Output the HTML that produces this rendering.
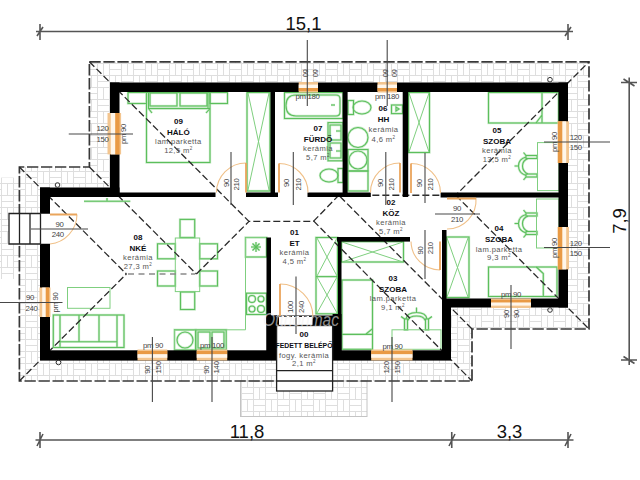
<!DOCTYPE html>
<html><head><meta charset="utf-8">
<style>
html,body{margin:0;padding:0;background:#fff;width:640px;height:480px;overflow:hidden}
svg{display:block}
text{font-family:"Liberation Sans",sans-serif}
.rn{font-weight:bold;fill:#0c0c12;font-size:8px}
.mt{fill:#555;font-size:7.6px;letter-spacing:.4px}
.dm{fill:#444;font-size:7.8px;letter-spacing:-.3px}
</style></head><body>
<svg width="640" height="480" viewBox="0 0 640 480">
<defs>
<pattern id="tile" x="1" y="3" width="24" height="24" patternUnits="userSpaceOnUse">
<path d="M0 .5H24M0 6.5H12M0 12.5H24M12 18.5H24M.5 0V24M12.5 0V24M18.5 0V12M6.5 12V24" stroke="#dedede" stroke-width="1" fill="none"/>
</pattern>
</defs>
<rect width="640" height="480" fill="#fff"/>

<path d="M89.4 61.8H589V329H472V381H19.4V167H89.4Z" fill="url(#tile)"/>
<rect x="0" y="177.6" width="19.4" height="101.4" fill="url(#tile)"/>
<rect x="240.5" y="381" width="126.5" height="35.5" fill="url(#tile)" stroke="#c4c4c4" stroke-width="1"/>
<path d="M110 82.5H568V307.5H451V360H40V187.5H110Z" fill="#fff"/>
<path d="M89.4 61.8H589V329H472V381H19.4V167H89.4Z" fill="none" stroke="#383838" stroke-width="1.7" stroke-dasharray="11.3 2.7"/>
<g fill="none" stroke="#cdeccd" stroke-width="2.4"><rect x="146.5" y="92.5" width="63.5" height="70" /><rect x="148.5" y="92.5" width="59.5" height="16"/><rect x="150" y="93" width="27" height="13"/><rect x="180" y="93" width="27" height="13"/><path d="M148.5 108.5H210M148.5 108.5L152 113M210 108.5L206 113"/><rect x="128" y="92.5" width="18.5" height="11"/><rect x="210" y="92.5" width="17.5" height="11"/><rect x="247" y="92.5" width="23" height="98.5"/><rect x="284.5" y="92.5" width="58.5" height="26"/><path d="M296 95H336Q340 95 340 99V112Q340 116 336 116H296Q286 116 286 105.5Q286 95 296 95Z"/><path d="M331 105H335"/><rect x="328" y="122.6" width="15" height="38.2"/><path d="M330 125H341V140H330ZM330 143H341V158H330Z"/><path d="M336 131H341M336 151H341"/><rect x="338" y="168.5" width="5" height="14"/><ellipse cx="329" cy="175.5" rx="9" ry="6.5"/><rect x="348" y="100.5" width="5.5" height="14"/><ellipse cx="362" cy="107.5" rx="9" ry="6.5"/><rect x="391.5" y="105" width="11" height="8.6"/><path d="M396 107V111L399 109Z"/><circle cx="358" cy="137.5" r="10"/><rect x="348" y="149.5" width="20" height="21.5"/><circle cx="358" cy="160" r="9"/><rect x="348" y="171" width="20" height="20"/><rect x="408.5" y="92.5" width="21" height="60"/><rect x="488.5" y="92.5" width="70" height="30.5"/><path d="M542 92.5V123M542 115L536 123"/><rect x="526" y="155.5" width="11" height="3"/><rect x="526" y="174" width="11" height="3"/><path d="M526 157Q518.5 159 518.5 166Q518.5 173 526 175.5M528 158.5Q522.5 160.5 522.5 166Q522.5 171.5 528 174M514.5 166H518.5M523.5 152.5L526 155.5M523.5 180L526 177"/><rect x="526" y="213.0" width="11" height="3"/><rect x="526" y="231.5" width="11" height="3"/><path d="M526 214.5Q518.5 216.5 518.5 223.5Q518.5 230.5 526 233.0M528 216.0Q522.5 218.0 522.5 223.5Q522.5 229.0 528 231.5M514.5 223.5H518.5M523.5 210.0L526 213.0M523.5 237.5L526 234.5"/><rect x="488.5" y="267" width="68.5" height="29.5"/><path d="M536.3 267L543.3 273.5V296.5"/><rect x="446.5" y="237" width="22.5" height="60.5"/><rect x="341.5" y="241.6" width="62" height="20.4"/><rect x="342" y="280" width="30.5" height="69.3"/><path d="M342 334.4H372.5M372.5 328.7L365.5 334.4"/><rect x="404.5" y="319" width="3" height="10.8"/><rect x="425.5" y="319" width="3" height="10.8"/><path d="M406 319Q407 312.5 416.5 312.5Q426 312.5 427 319M408 320.5Q409 316 416.5 316Q424 316 425 320.5M416.5 307.5V312.5M401 316.5L404.5 319M432 316.5L428.5 319"/><rect x="316" y="237.5" width="21.5" height="76.3"/><path d="M316 276.6H337.5"/><rect x="245.5" y="237.5" width="21" height="19.5"/><path d="M256 242V252M251 247H261M252.5 243.5L259.5 250.5M259.5 243.5L252.5 250.5"/><rect x="246.5" y="293.2" width="20" height="21.3"/><circle cx="252" cy="299" r="3.5"/><circle cx="261" cy="299" r="3"/><circle cx="252" cy="309" r="3"/><circle cx="261" cy="309" r="3.5"/><rect x="174.5" y="329.8" width="21.2" height="20.2"/><circle cx="185" cy="340" r="8"/><rect x="195.7" y="329.8" width="30.5" height="20.2"/><rect x="198" y="332" width="12" height="16"/><rect x="212" y="332" width="12" height="16"/><rect x="180" y="219.4" width="14.7" height="18.1"/><rect x="180.5" y="292" width="14.2" height="17.5"/><rect x="157.5" y="243.8" width="17.8" height="15"/><rect x="157.5" y="271" width="17.8" height="15"/><rect x="199.7" y="243.8" width="17.8" height="15"/><rect x="199.7" y="271" width="17.8" height="15"/><rect x="53.3" y="315" width="70.7" height="32.5"/><path d="M60 315V347.5M117 315V347.5M60 341.7H117M79 315V341.7M99 315V341.7"/><path d="M84 201.25H130.3M107 198V201"/></g>
<g fill="none" stroke="#5cbf5c" stroke-width="1.1"><rect x="146.5" y="92.5" width="63.5" height="70" /><rect x="148.5" y="92.5" width="59.5" height="16"/><rect x="150" y="93" width="27" height="13"/><rect x="180" y="93" width="27" height="13"/><path d="M148.5 108.5H210M148.5 108.5L152 113M210 108.5L206 113"/><rect x="128" y="92.5" width="18.5" height="11"/><rect x="210" y="92.5" width="17.5" height="11"/><rect x="247" y="92.5" width="23" height="98.5"/><rect x="284.5" y="92.5" width="58.5" height="26"/><path d="M296 95H336Q340 95 340 99V112Q340 116 336 116H296Q286 116 286 105.5Q286 95 296 95Z"/><path d="M331 105H335"/><rect x="328" y="122.6" width="15" height="38.2"/><path d="M330 125H341V140H330ZM330 143H341V158H330Z"/><path d="M336 131H341M336 151H341"/><rect x="338" y="168.5" width="5" height="14"/><ellipse cx="329" cy="175.5" rx="9" ry="6.5"/><rect x="348" y="100.5" width="5.5" height="14"/><ellipse cx="362" cy="107.5" rx="9" ry="6.5"/><rect x="391.5" y="105" width="11" height="8.6"/><path d="M396 107V111L399 109Z"/><circle cx="358" cy="137.5" r="10"/><rect x="348" y="149.5" width="20" height="21.5"/><circle cx="358" cy="160" r="9"/><rect x="348" y="171" width="20" height="20"/><rect x="408.5" y="92.5" width="21" height="60"/><rect x="488.5" y="92.5" width="70" height="30.5"/><path d="M542 92.5V123M542 115L536 123"/><rect x="526" y="155.5" width="11" height="3"/><rect x="526" y="174" width="11" height="3"/><path d="M526 157Q518.5 159 518.5 166Q518.5 173 526 175.5M528 158.5Q522.5 160.5 522.5 166Q522.5 171.5 528 174M514.5 166H518.5M523.5 152.5L526 155.5M523.5 180L526 177"/><rect x="526" y="213.0" width="11" height="3"/><rect x="526" y="231.5" width="11" height="3"/><path d="M526 214.5Q518.5 216.5 518.5 223.5Q518.5 230.5 526 233.0M528 216.0Q522.5 218.0 522.5 223.5Q522.5 229.0 528 231.5M514.5 223.5H518.5M523.5 210.0L526 213.0M523.5 237.5L526 234.5"/><rect x="488.5" y="267" width="68.5" height="29.5"/><path d="M536.3 267L543.3 273.5V296.5"/><rect x="446.5" y="237" width="22.5" height="60.5"/><rect x="341.5" y="241.6" width="62" height="20.4"/><rect x="342" y="280" width="30.5" height="69.3"/><path d="M342 334.4H372.5M372.5 328.7L365.5 334.4"/><rect x="404.5" y="319" width="3" height="10.8"/><rect x="425.5" y="319" width="3" height="10.8"/><path d="M406 319Q407 312.5 416.5 312.5Q426 312.5 427 319M408 320.5Q409 316 416.5 316Q424 316 425 320.5M416.5 307.5V312.5M401 316.5L404.5 319M432 316.5L428.5 319"/><rect x="316" y="237.5" width="21.5" height="76.3"/><path d="M316 276.6H337.5"/><rect x="245.5" y="237.5" width="21" height="19.5"/><path d="M256 242V252M251 247H261M252.5 243.5L259.5 250.5M259.5 243.5L252.5 250.5"/><rect x="246.5" y="293.2" width="20" height="21.3"/><circle cx="252" cy="299" r="3.5"/><circle cx="261" cy="299" r="3"/><circle cx="252" cy="309" r="3"/><circle cx="261" cy="309" r="3.5"/><rect x="174.5" y="329.8" width="21.2" height="20.2"/><circle cx="185" cy="340" r="8"/><rect x="195.7" y="329.8" width="30.5" height="20.2"/><rect x="198" y="332" width="12" height="16"/><rect x="212" y="332" width="12" height="16"/><rect x="180" y="219.4" width="14.7" height="18.1"/><rect x="180.5" y="292" width="14.2" height="17.5"/><rect x="157.5" y="243.8" width="17.8" height="15"/><rect x="157.5" y="271" width="17.8" height="15"/><rect x="199.7" y="243.8" width="17.8" height="15"/><rect x="199.7" y="271" width="17.8" height="15"/><rect x="53.3" y="315" width="70.7" height="32.5"/><path d="M60 315V347.5M117 315V347.5M60 341.7H117M79 315V341.7M99 315V341.7"/><path d="M84 201.25H130.3M107 198V201"/></g>
<g fill="none" stroke="#7fcf7f" stroke-width="1"><path d="M248 93L269 190M269 93L248 190"/><path d="M409 93L429 152M429 93L409 152"/><rect x="537.5" y="142.6" width="21.5" height="48"/><rect x="536.5" y="199" width="22.5" height="49"/><path d="M447 238L468 297M468 238L447 297"/><path d="M342 242L403 262M403 242L342 262"/><rect x="392" y="329.8" width="49" height="19.5"/><path d="M317 238L337 276M337 238L317 276M317 277L337 313M337 277L317 313"/><path d="M266 237.5H245.5V329.8H174.5V350"/><rect x="175.3" y="238" width="24.4" height="53.6"/><rect x="67.5" y="287.5" width="42.5" height="20.8"/></g>
<g stroke="#2a2a2a" stroke-width="1.3" stroke-dasharray="7 3" fill="none">
<path d="M89.4 61.8L249 221.4H314L472 381"/>
<path d="M313.4 221.4L338.75 195.25H455.75L589 61.8"/>
<path d="M455.75 195.25L589 329"/>
<path d="M472 329L338.75 195.25"/>
<path d="M19.4 167L126.4 274M196.4 274L249 221.4"/>
<path d="M19.4 381L126.4 274"/>
<path d="M89.4 167L196.4 274"/>
</g>
<g stroke="#8a8a8a" stroke-width="1.3" stroke-dasharray="6 4.5" fill="none">
<path d="M128 274H195"/>
</g>
<g fill="#000">
<rect x="110" y="82.5" width="458" height="9.5"/>
<rect x="558.5" y="82.5" width="9.5" height="225"/>
<rect x="442" y="298.5" width="126" height="9"/>
<rect x="442" y="299" width="9" height="61"/>
<rect x="40" y="350.3" width="411" height="10.3"/>
<rect x="40" y="187.5" width="10" height="172.5"/>
<rect x="40" y="187.5" width="79.5" height="9.5"/>
<rect x="110" y="82.5" width="9.5" height="114.5"/>
<rect x="119" y="192.5" width="96.5" height="4.5"/>
<rect x="246" y="192.5" width="32" height="4.5"/>
<rect x="270.5" y="92" width="4.5" height="105"/>
<rect x="307.5" y="192.5" width="63.3" height="4.5"/>
<rect x="342.6" y="92" width="5" height="105"/>
<rect x="402.7" y="92" width="5.5" height="105"/>
<rect x="440.6" y="192.5" width="119" height="5"/>
<rect x="442" y="230" width="4.5" height="70"/>
<rect x="337" y="237" width="73" height="4.6"/>
<rect x="338" y="237" width="3.5" height="123"/>
<rect x="266.5" y="237.5" width="4.5" height="122.5"/>
<rect x="266.5" y="315.5" width="10.5" height="44.5"/>
<rect x="332.6" y="314" width="8.9" height="46"/>
<rect x="266.5" y="315.5" width="74.5" height="10"/>
</g>
<g fill="#fff">
<rect x="40" y="213.75" width="10" height="30"/>
<rect x="279" y="316" width="33.5" height="9"/>
</g>
<rect x="298.7" y="82.0" width="19.30000000000001" height="10.5" fill="#f3c58f"/><rect x="298.7" y="84.59" width="19.30000000000001" height="3.42" fill="#fff6ea"/><rect x="298.7" y="88.01" width="19.30000000000001" height="3.04" fill="#e99a45"/><rect x="377.5" y="82.0" width="19.5" height="10.5" fill="#f3c58f"/><rect x="377.5" y="84.59" width="19.5" height="3.42" fill="#fff6ea"/><rect x="377.5" y="88.01" width="19.5" height="3.04" fill="#e99a45"/><rect x="107.5" y="113" width="13.599999999999994" height="41.400000000000006" fill="#f3c58f"/><rect x="110.77" y="113" width="4.54" height="41.400000000000006" fill="#fff6ea"/><rect x="115.31" y="113" width="4.28" height="41.400000000000006" fill="#e99a45"/><rect x="557.5" y="121.3" width="11.5" height="41.7" fill="#f3c58f"/><rect x="558.00" y="121.3" width="4.41" height="41.7" fill="#e99a45"/><rect x="562.41" y="121.3" width="3.78" height="41.7" fill="#fff6ea"/><rect x="557.5" y="227" width="11.5" height="42.39999999999998" fill="#f3c58f"/><rect x="558.00" y="227" width="4.41" height="42.39999999999998" fill="#e99a45"/><rect x="562.41" y="227" width="3.78" height="42.39999999999998" fill="#fff6ea"/><rect x="39.5" y="287.5" width="11" height="29.5" fill="#f3c58f"/><rect x="42.20" y="287.5" width="3.60" height="29.5" fill="#fff6ea"/><rect x="45.80" y="287.5" width="3.40" height="29.5" fill="#e99a45"/><rect x="491" y="298.5" width="40" height="9.5" fill="#f3c58f"/><rect x="491" y="299.85" width="40" height="2.72" fill="#e99a45"/><rect x="491" y="302.57" width="40" height="3.06" fill="#fff6ea"/><rect x="137.5" y="349.5" width="29.80000000000001" height="11" fill="#f3c58f"/><rect x="137.5" y="351.00" width="29.80000000000001" height="3.20" fill="#e99a45"/><rect x="137.5" y="354.20" width="29.80000000000001" height="3.60" fill="#fff6ea"/><rect x="196.7" y="349.5" width="30.5" height="11" fill="#f3c58f"/><rect x="196.7" y="351.00" width="30.5" height="3.20" fill="#e99a45"/><rect x="196.7" y="354.20" width="30.5" height="3.60" fill="#fff6ea"/><rect x="371.2" y="349.5" width="41.30000000000001" height="11" fill="#f3c58f"/><rect x="371.2" y="351.00" width="41.30000000000001" height="3.20" fill="#e99a45"/><rect x="371.2" y="354.20" width="41.30000000000001" height="3.60" fill="#fff6ea"/>
<g fill="none" stroke="#f0c088" stroke-width="1.1">
<path d="M246 163A29.5 29.5 0 0 0 216.5 192.5"/>
<path d="M279 163.5A29 29 0 0 1 308 192.5"/>
<path d="M400 163A29.5 29.5 0 0 0 370.5 192.5"/>
<path d="M411 163.5A29.5 29.5 0 0 1 440.5 193"/>
<path d="M476 198A29 29 0 0 1 447 229"/>
<path d="M440 270A29 29 0 0 1 411 241.6"/>
<path d="M280 284A33 33 0 0 1 313 317"/>
<path d="M77 214.5A30 30 0 0 1 50 244"/>
</g>
<g fill="none" stroke="#eaa55c" stroke-width="1.8">
<path d="M246 192.5V163M279 192.5V163.5M400 192.5V163M411 193V163.5M447 198.5H476M440 241.6V270M280 316V284M50 214.5H77"/>
</g>
<g fill="none" stroke="#222" stroke-width="1.3">
<rect x="276.6" y="325.5" width="56" height="65.5" fill="#fff"/>
<path d="M279 316.5H312.5" stroke-dasharray="3 2" stroke-width="1"/>
<path d="M276.6 370.6H332.6M276.6 381H332.6"/>
<path d="M9 213.5H40.5V244H9Z" fill="#fff"/><path d="M19.5 213.5V244M30 213.5V244"/>
</g>
<g stroke="#484848" stroke-width="1.1" fill="none">
<path d="M307.3 40V106M387.2 40V106"/>
<path d="M68.75 134H133"/>
<path d="M544 142H610M544 247.5H610"/>
<path d="M511 285V349"/>
<path d="M0 302.5H62.5"/>
<path d="M31 229H88"/>
<path d="M152.4 337V402M212 337V402M392 337V402"/>
<path d="M231 152V205M293.3 152V205M385.8 152V205M425 153V203"/>
<path d="M435 214H480M425 230V279M296 276.6V334"/>
</g>
<g stroke="#555" stroke-width="1.6" fill="none">
<path d="M36 31.5H573"/>
<path d="M40 24V40M37 36L43 27M568 24V40M565 36L571 27"/>
<path d="M35.5 440H573.5"/>
<path d="M40 432V448M37 446L43 434M451.75 432V448M449 446L455 434M568 432V448M565 446L571 434"/>
<path d="M629.2 77.5V365"/>
<path d="M621 82.5H637M623.5 79L634.5 86M621 360H637M623.5 356.5L634.5 363.5"/>
</g>
<g fill="#111" font-size="18.5">
<text x="303.5" y="29.5" text-anchor="middle">15,1</text>
<text x="247" y="438" text-anchor="middle">11,8</text>
<text x="509.5" y="438" text-anchor="middle">3,3</text>
<text transform="translate(626.3 221) rotate(-90)" text-anchor="middle">7,9</text>
</g>
<text class="rn" x="178.4" y="123.6" text-anchor="middle">09</text><text class="rn" x="178.4" y="134.6" text-anchor="middle">HÁLÓ</text><text class="mt" x="178.4" y="143.9" text-anchor="middle">lam.parketta</text><text class="mt" x="178.4" y="152.6" text-anchor="middle">12,5 m<tspan font-size="4.5" dy="-3">2</tspan></text>
<text class="rn" x="318" y="130.5" text-anchor="middle">07</text><text class="rn" x="318" y="141.5" text-anchor="middle">FÜRDŐ</text><text class="mt" x="318" y="150.8" text-anchor="middle">kerámia</text><text class="mt" x="318" y="159.5" text-anchor="middle">5,7 m<tspan font-size="4.5" dy="-3">2</tspan></text>
<text class="rn" x="383" y="111.4" text-anchor="middle">06</text><text class="rn" x="383.5" y="122" text-anchor="middle">HH</text><text class="mt" x="383.5" y="131.5" text-anchor="middle">kerámia</text><text class="mt" x="383.5" y="141.5" text-anchor="middle">4,6 m<tspan font-size="4.5" dy="-3">2</tspan></text>
<text class="rn" x="497" y="132.8" text-anchor="middle">05</text><text class="rn" x="497" y="143.8" text-anchor="middle">SZOBA</text><text class="mt" x="497" y="153.10000000000002" text-anchor="middle">kerámia</text><text class="mt" x="497" y="161.8" text-anchor="middle">13,5 m<tspan font-size="4.5" dy="-3">2</tspan></text>
<text class="rn" x="499" y="231.4" text-anchor="middle">04</text><text class="rn" x="499" y="242.4" text-anchor="middle">SZOBA</text><text class="mt" x="499" y="251.70000000000002" text-anchor="middle">lam.parketta</text><text class="mt" x="499" y="260.4" text-anchor="middle">9,3 m<tspan font-size="4.5" dy="-3">2</tspan></text>
<text class="rn" x="391" y="205" text-anchor="middle">02</text><text class="rn" x="391" y="216" text-anchor="middle">KÖZ</text><text class="mt" x="391" y="225.3" text-anchor="middle">kerámia</text><text class="mt" x="391" y="234" text-anchor="middle">5,7 m<tspan font-size="4.5" dy="-3">2</tspan></text>
<text class="rn" x="294.5" y="234.5" text-anchor="middle">01</text><text class="rn" x="294.5" y="245.5" text-anchor="middle">ET</text><text class="mt" x="294.5" y="254.8" text-anchor="middle">kerámia</text><text class="mt" x="294.5" y="263.5" text-anchor="middle">4,5 m<tspan font-size="4.5" dy="-3">2</tspan></text>
<text class="rn" x="138" y="239.7" text-anchor="middle">08</text><text class="rn" x="138" y="250.7" text-anchor="middle">NKÉ</text><text class="mt" x="138" y="260.0" text-anchor="middle">kerámia</text><text class="mt" x="138" y="268.7" text-anchor="middle">27,3 m<tspan font-size="4.5" dy="-3">2</tspan></text>
<text class="rn" x="393" y="281" text-anchor="middle">03</text><text class="rn" x="393" y="292" text-anchor="middle">SZOBA</text><text class="mt" x="393" y="301.3" text-anchor="middle">lam.parketta</text><text class="mt" x="393" y="310" text-anchor="middle">9,1 m<tspan font-size="4.5" dy="-3">2</tspan></text>
<text class="rn" x="304" y="337.2" text-anchor="middle">00</text><text class="rn" x="304" y="348.2" text-anchor="middle" textLength="57" lengthAdjust="spacingAndGlyphs">FEDETT BELÉPŐ</text><text class="mt" x="304" y="357.5" text-anchor="middle">fogy. kerámia</text><text class="mt" x="304" y="366.2" text-anchor="middle">2,1 m<tspan font-size="4.5" dy="-3">2</tspan></text>
<text class="dm" transform="translate(303.2 73) rotate(90)" text-anchor="middle">60</text><text class="dm" transform="translate(312.6 73) rotate(90)" text-anchor="middle">60</text><text class="dm" transform="translate(382.7 73) rotate(90)" text-anchor="middle">60</text><text class="dm" transform="translate(392.2 73) rotate(90)" text-anchor="middle">60</text><text class="dm" x="307.5" y="99" text-anchor="middle">pm 180</text><text class="dm" x="387" y="99" text-anchor="middle">pm 180</text><text class="dm" x="102.5" y="131" text-anchor="middle">120</text><text class="dm" x="102.5" y="142" text-anchor="middle">150</text><text class="dm" transform="translate(126 134) rotate(-90)" text-anchor="middle">pm 90</text><text class="dm" x="575.8" y="140.2" text-anchor="middle">120</text><text class="dm" x="575.8" y="150.2" text-anchor="middle">150</text><text class="dm" transform="translate(557 142) rotate(-90)" text-anchor="middle">pm 90</text><text class="dm" x="575.8" y="246" text-anchor="middle">120</text><text class="dm" x="575.8" y="256" text-anchor="middle">150</text><text class="dm" transform="translate(557 248) rotate(-90)" text-anchor="middle">pm 90</text><text class="dm" x="30" y="300" text-anchor="middle">90</text><text class="dm" x="31.5" y="311" text-anchor="middle">240</text><text class="dm" transform="translate(57.5 302.5) rotate(-90)" text-anchor="middle">pm 90</text><text class="dm" x="59.5" y="226.6" text-anchor="middle">90</text><text class="dm" x="57.7" y="236.5" text-anchor="middle">240</text><text class="dm" x="511" y="297" text-anchor="middle">pm 90</text><text class="dm" transform="translate(508.8 314) rotate(-90)" text-anchor="middle">90</text><text class="dm" transform="translate(518.8 314) rotate(-90)" text-anchor="middle">90</text><text class="dm" x="153" y="348" text-anchor="middle">pm 90</text><text class="dm" transform="translate(150.3 369.8) rotate(-90)" text-anchor="middle">90</text><text class="dm" transform="translate(160.5 367.4) rotate(-90)" text-anchor="middle">150</text><text class="dm" x="212" y="348" text-anchor="middle">pm 100</text><text class="dm" transform="translate(209 369.8) rotate(-90)" text-anchor="middle">90</text><text class="dm" transform="translate(219.3 367.4) rotate(-90)" text-anchor="middle">140</text><text class="dm" x="392.5" y="349" text-anchor="middle">pm 90</text><text class="dm" transform="translate(388.8 367.4) rotate(-90)" text-anchor="middle">120</text><text class="dm" transform="translate(400 367.4) rotate(-90)" text-anchor="middle">150</text><text class="dm" transform="translate(228.5 183) rotate(-90)" text-anchor="middle">90</text><text class="dm" transform="translate(239 184.5) rotate(-90)" text-anchor="middle">210</text><text class="dm" transform="translate(289 183) rotate(-90)" text-anchor="middle">90</text><text class="dm" transform="translate(301 184.5) rotate(-90)" text-anchor="middle">210</text><text class="dm" transform="translate(382.6 183) rotate(-90)" text-anchor="middle">90</text><text class="dm" transform="translate(393.6 184.5) rotate(-90)" text-anchor="middle">210</text><text class="dm" transform="translate(421.7 183.3) rotate(-90)" text-anchor="middle">90</text><text class="dm" transform="translate(432.7 184.5) rotate(-90)" text-anchor="middle">210</text><text class="dm" x="457" y="211" text-anchor="middle">90</text><text class="dm" x="457" y="222" text-anchor="middle">210</text><text class="dm" transform="translate(423 250.5) rotate(-90)" text-anchor="middle">90</text><text class="dm" transform="translate(433 248.3) rotate(-90)" text-anchor="middle">210</text><text class="dm" transform="translate(293.4 307) rotate(-90)" text-anchor="middle">100</text><text class="dm" transform="translate(304.3 307) rotate(-90)" text-anchor="middle">240</text>
<g fill="none" stroke="#333" stroke-width="1"><circle cx="57.5" cy="185" r="2.3"/><circle cx="550" cy="79.7" r="2.3"/><circle cx="550" cy="310" r="2.3"/><circle cx="58.5" cy="362.5" r="2.3"/></g>
<text x="301" y="326" text-anchor="middle" font-size="18" font-style="italic" fill="#f0f0f0" fill-opacity="0.6" textLength="76" lengthAdjust="spacingAndGlyphs">Otthonmac</text>
</svg>
</body></html>
